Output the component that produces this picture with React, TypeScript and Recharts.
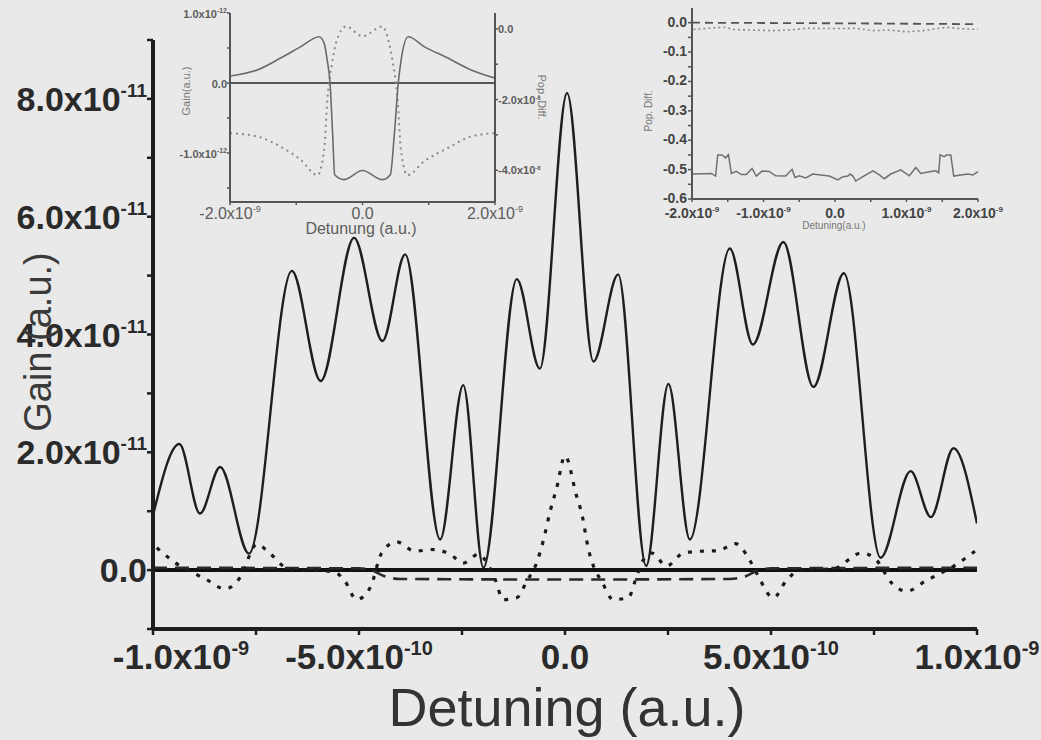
import { LineChart, Line, XAxis, YAxis, ReferenceLine } from 'recharts'

const FONT = '"Liberation Sans", Arial, Helvetica, sans-serif'
const INK = '#1e1e1e'
const GREY = '#5c5c5c'

// main panel: detuning in units of 1e-10, gain in units of 1e-11
const GAIN_X = [-10, -9.36, -8.86, -8.37, -7.67, -6.63, -5.93, -5.12, -4.43, -3.88, -3.03, -2.47, -1.98, -1.17, -0.61, 0.05, 0.69, 1.29, 1.97, 2.51, 3.03, 4.0, 4.56, 5.3, 6.03, 6.77, 7.66, 8.39, 8.88, 9.43, 10]
const GAIN_Y = [0.93, 2.14, 0.96, 1.75, 0.28, 5.08, 3.21, 5.64, 3.89, 5.36, 0.52, 3.14, 0.04, 4.94, 3.42, 8.1, 3.54, 5.02, 0.07, 3.16, 0.52, 5.46, 3.83, 5.57, 3.11, 5.04, 0.21, 1.68, 0.9, 2.07, 0.79]

const DOT_X = [-9.91, -9.51, -8.7, -8.25, -7.89, -7.48, -7.16, -6.7, -6.0, -5.55, -5.34, -5.06, -4.73, -4.45, -4.09, -3.64, -3.24, -2.79, -2.47, -2.1, -1.85, -1.7, -1.5, -1.17, -0.93, -0.69, -0.53, -0.36, -0.2, 0, 0.28, 0.41, 0.57, 0.69, 0.89, 1.17, 1.54, 1.7, 1.86, 2.1, 2.47, 2.87, 3.28, 3.72, 4.13, 4.45, 4.65, 5.06, 5.36, 5.7, 6.5, 7.2, 7.52, 7.93, 8.29, 8.74, 9.55, 9.95]
const DOT_Y = [0.38, 0.15, -0.16, -0.32, -0.13, 0.44, 0.28, 0.02, 0.0, -0.05, -0.19, -0.5, -0.3, 0.29, 0.48, 0.32, 0.35, 0.27, 0.12, 0.27, 0.07, -0.15, -0.5, -0.47, -0.19, 0.12, 0.49, 1.0, 1.4, 1.94, 1.26, 0.95, 0.35, 0.07, -0.19, -0.5, -0.47, -0.19, 0.12, 0.29, 0.07, 0.29, 0.32, 0.33, 0.45, 0.21, -0.05, -0.47, -0.19, 0.0, 0.02, 0.29, 0.2, -0.22, -0.36, -0.19, 0.12, 0.32]

const DASH_X = [-10, -5.0, -4.7, -4.4, -4.0, 0, 4.0, 4.4, 4.7, 5.0, 10]
const DASH_Y = [0.04, 0.03, 0.0, -0.1, -0.15, -0.16, -0.15, -0.1, 0.0, 0.03, 0.04]

const MAIN_X_TICKS = [-10, -7.5, -5, -2.5, 0, 2.5, 5, 7.5, 10]
const MAIN_X_MAJOR = [-10, -5, 0, 5, 10]
const MAIN_X_LABELS: [string, string][] = [['-1.0x10', '-9'], ['-5.0x10', '-10'], ['0.0', ''], ['5.0x10', '-10'], ['1.0x10', '-9']]
const MAIN_Y_TICKS = [-1, 0, 1, 2, 3, 4, 5, 6, 7, 8, 9]
const MAIN_Y_MAJOR = [0, 2, 4, 6, 8]
const MAIN_Y_LABELS: [string, string][] = [['0.0', ''], ['2.0x10', '-11'], ['4.0x10', '-11'], ['6.0x10', '-11'], ['8.0x10', '-11']]

// left inset: detuning in 1e-9, gain in 1e-12, population difference in 1e-8
const IN1_GAIN_X = [-2.0, -1.58, -1.23, -0.93, -0.655, -0.58, -0.53, -0.49, -0.45, -0.42, -0.28, 0, 0.3, 0.42, 0.48, 0.54, 0.58, 0.69, 0.93, 1.28, 1.63, 2.0]
const IN1_GAIN_Y = [0.1, 0.19, 0.36, 0.52, 0.66, 0.57, 0.31, 0.0, -0.74, -1.31, -1.38, -1.25, -1.38, -1.31, -0.74, 0.0, 0.31, 0.66, 0.52, 0.36, 0.19, 0.07]
const IN1_POP_X = [-2.0, -1.58, -1.23, -0.93, -0.68, -0.58, -0.53, -0.45, -0.4, -0.25, 0, 0.3, 0.4, 0.45, 0.53, 0.58, 0.68, 0.93, 1.28, 1.63, 2.0]
const IN1_POP_Y = [-2.95, -3.05, -3.34, -3.71, -4.14, -3.43, -2.0, -0.87, -0.4, 0.07, -0.21, 0.07, -0.4, -0.87, -2.0, -3.43, -4.14, -3.75, -3.38, -3.05, -2.95]

const IN1_X_TICKS = [-2, -1, 0, 1, 2]
const IN1_X_MAJOR = [-2, 0, 2]
const IN1_X_LABELS: [string, string][] = [['-2.0x10', '-9'], ['0.0', ''], ['2.0x10', '-9']]
const IN1_GAIN_TICKS = [-1.5, -1, -0.5, 0, 0.5, 1]
const IN1_GAIN_MAJOR = [-1, 0, 1]
const IN1_GAIN_LABELS: [string, string][] = [['-1.0x10', '-12'], ['0.0', ''], ['1.0x10', '-12']]
const IN1_POP_TICKS = [-4, -3, -2, -1, 0]
const IN1_POP_MAJOR = [-4, -2, 0]
const IN1_POP_LABELS: [string, string][] = [['-4.0x10', '-8'], ['-2.0x10', '-8'], ['0.0', '']]

// right inset: detuning in 1e-9
const IN2_X = [-1.99, -1.85, -1.73, -1.67, -1.64, -1.58, -1.53, -1.49, -1.45, -1.38, -1.31, -1.24, -1.16, -1.1, -1.02, -0.92, -0.83, -0.69, -0.6, -0.56, -0.5, -0.41, -0.31, -0.2, -0.08, 0.04, 0.11, 0.18, 0.21, 0.25, 0.29, 0.39, 0.53, 0.62, 0.69, 0.78, 0.92, 1.04, 1.13, 1.2, 1.32, 1.41, 1.45, 1.47, 1.53, 1.56, 1.62, 1.66, 1.76, 1.86, 1.93, 2.0]
const IN2_SOLID = [-0.515, -0.514, -0.513, -0.522, -0.45, -0.45, -0.46, -0.449, -0.513, -0.506, -0.517, -0.517, -0.496, -0.522, -0.505, -0.506, -0.521, -0.522, -0.499, -0.527, -0.521, -0.528, -0.515, -0.518, -0.522, -0.535, -0.524, -0.522, -0.515, -0.522, -0.539, -0.524, -0.504, -0.518, -0.531, -0.515, -0.501, -0.521, -0.493, -0.513, -0.507, -0.504, -0.511, -0.45, -0.456, -0.45, -0.45, -0.522, -0.518, -0.515, -0.518, -0.507]
const IN2_DOT_X = [-1.98, -1.67, -1.52, -1.44, -1.2, -0.87, -0.64, -0.4, -0.17, 0.06, 0.29, 0.53, 0.76, 1.0, 1.23, 1.46, 1.58, 1.74, 2.0]
const IN2_DOT_Y = [-0.023, -0.017, -0.016, -0.023, -0.025, -0.027, -0.025, -0.019, -0.02, -0.02, -0.019, -0.027, -0.025, -0.031, -0.027, -0.019, -0.016, -0.02, -0.023]
const IN2_DASH_X = [-2.0, 0, 2.0]
const IN2_DASH_Y = [0.0, -0.002, -0.005]

const IN2_X_TICKS = [-2, -1.5, -1, -0.5, 0, 0.5, 1, 1.5, 2]
const IN2_X_MAJOR = [-2, -1, 0, 1, 2]
const IN2_X_LABELS: [string, string][] = [['-2.0x10', '-9'], ['-1.0x10', '-9'], ['0.0', ''], ['1.0x10', '-9'], ['2.0x10', '-9']]
const IN2_Y_TICKS = [-0.6, -0.55, -0.5, -0.45, -0.4, -0.35, -0.3, -0.25, -0.2, -0.15, -0.1, -0.05, 0]
const IN2_Y_MAJOR = [-0.6, -0.5, -0.4, -0.3, -0.2, -0.1, 0]
const IN2_Y_LABELS: [string, string][] = [['-0.6', ''], ['-0.5', ''], ['-0.4', ''], ['-0.3', ''], ['-0.2', ''], ['-0.1', ''], ['0.0', '']]

const rows = (xs: number[], ys: number[]) => xs.map((x, i) => ({ x, y: ys[i] }))

interface TickStyle {
    size: number
    sup: number
    rise: number
    dy: number
    anchor: 'start' | 'middle' | 'end'
    fill: string
    weight: number
    firstDx?: number
}

function sciTick(major: number[], labels: [string, string][], s: TickStyle) {
    return (props: any) => {
        const i = major.indexOf(props.payload.value)
        if (i < 0) return <g />
        const [m, e] = labels[i]
        return (
            <text
                x={props.x + (i === 0 && s.firstDx ? s.firstDx : 0)}
                y={props.y + s.dy}
                textAnchor={s.anchor}
                fontSize={s.size}
                fontWeight={s.weight}
                fill={s.fill}
                fontFamily={FONT}
            >
                {m}
                {e && (
                    <tspan dy={-s.rise} fontSize={s.sup}>
                        {e}
                    </tspan>
                )}
            </text>
        )
    }
}

export default function App() {
    return (
        <div style={{ position: 'absolute', left: 0, top: 0, width: 1041, height: 740, background: '#e9e9e9', overflow: 'hidden' }}>
            {/* main gain spectrum */}
            <div style={{ position: 'absolute', left: 0, top: 0 }}>
                <LineChart width={1041} height={740} margin={{ top: 40, right: 64, bottom: 11, left: 0 }}>
                    <XAxis
                        type="number"
                        dataKey="x"
                        domain={[-10, 10]}
                        ticks={MAIN_X_TICKS}
                        interval={0}
                        height={100}
                        tickSize={6}
                        tickMargin={0}
                        allowDataOverflow
                        axisLine={{ stroke: INK, strokeWidth: 4 }}
                        tickLine={{ stroke: INK, strokeWidth: 2.5 }}
                        tick={sciTick(MAIN_X_MAJOR, MAIN_X_LABELS, { size: 35, sup: 20, rise: 14, dy: 34, anchor: 'middle', fill: '#2a2a2a', weight: 700, firstDx: 28 })}
                    />
                    <YAxis
                        type="number"
                        domain={[-1, 9]}
                        ticks={MAIN_Y_TICKS}
                        interval={0}
                        width={153}
                        tickSize={6}
                        tickMargin={0}
                        allowDataOverflow
                        axisLine={{ stroke: INK, strokeWidth: 4 }}
                        tickLine={{ stroke: INK, strokeWidth: 2.5 }}
                        tick={sciTick(MAIN_Y_MAJOR, MAIN_Y_LABELS, { size: 34, sup: 19, rise: 14, dy: 12, anchor: 'end', fill: '#2a2a2a', weight: 700 })}
                    />
                    <ReferenceLine y={0} stroke="#111" strokeWidth={4} />
                    <Line data={rows(DASH_X, DASH_Y)} dataKey="y" type="monotone" stroke="#2a2a2a" strokeWidth={2.6} strokeDasharray="14 8" dot={false} isAnimationActive={false} />
                    <Line data={rows(DOT_X, DOT_Y)} dataKey="y" type="monotone" stroke="#1a1a1a" strokeWidth={3.2} strokeDasharray="4 8" dot={false} isAnimationActive={false} />
                    <Line data={rows(GAIN_X, GAIN_Y)} dataKey="y" type="monotone" stroke="#1e1e1e" strokeWidth={2.4} dot={false} isAnimationActive={false} />
                </LineChart>
            </div>

            {/* left inset */}
            <div style={{ position: 'absolute', left: 150, top: 0 }}>
                <LineChart width={420} height={240} margin={{ top: 13, right: 0, bottom: 2, left: 0 }}>
                    <XAxis
                        type="number"
                        dataKey="x"
                        domain={[-2, 2]}
                        ticks={IN1_X_TICKS}
                        interval={0}
                        height={36}
                        tickSize={3}
                        tickMargin={0}
                        axisLine={{ stroke: '#555', strokeWidth: 2 }}
                        tickLine={{ stroke: '#555', strokeWidth: 1.5 }}
                        tick={sciTick(IN1_X_MAJOR, IN1_X_LABELS, { size: 16, sup: 9, rise: 7, dy: 14, anchor: 'middle', fill: GREY, weight: 400 })}
                    />
                    <XAxis xAxisId="top" orientation="top" type="number" dataKey="x" domain={[-2, 2]} height={0} tick={false} tickLine={false} axisLine={{ stroke: '#555', strokeWidth: 2 }} />
                    <YAxis
                        yAxisId="gain"
                        type="number"
                        domain={[-1.7, 1.0]}
                        ticks={IN1_GAIN_TICKS}
                        interval={0}
                        width={80}
                        tickSize={3}
                        tickMargin={0}
                        allowDataOverflow
                        axisLine={{ stroke: '#555', strokeWidth: 2 }}
                        tickLine={{ stroke: '#555', strokeWidth: 1.5 }}
                        tick={sciTick(IN1_GAIN_MAJOR, IN1_GAIN_LABELS, { size: 11, sup: 7, rise: 5, dy: 5, anchor: 'end', fill: GREY, weight: 700 })}
                    />
                    <YAxis
                        yAxisId="pop"
                        orientation="right"
                        type="number"
                        domain={[-4.9, 0.45]}
                        ticks={IN1_POP_TICKS}
                        interval={0}
                        width={75}
                        tickSize={3}
                        tickMargin={0}
                        allowDataOverflow
                        axisLine={{ stroke: '#555', strokeWidth: 2 }}
                        tickLine={{ stroke: '#555', strokeWidth: 1.5 }}
                        tick={sciTick(IN1_POP_MAJOR, IN1_POP_LABELS, { size: 11, sup: 6, rise: 4, dy: 4, anchor: 'start', fill: GREY, weight: 700 })}
                    />
                    <ReferenceLine yAxisId="gain" y={0} stroke="#555" strokeWidth={1.8} />
                    <Line yAxisId="pop" data={rows(IN1_POP_X, IN1_POP_Y)} dataKey="y" type="monotone" stroke="#8a8a8a" strokeWidth={2} strokeDasharray="2 4" dot={false} isAnimationActive={false} />
                    <Line yAxisId="gain" data={rows(IN1_GAIN_X, IN1_GAIN_Y)} dataKey="y" type="monotone" stroke="#6a6a6a" strokeWidth={1.6} dot={false} isAnimationActive={false} />
                </LineChart>
            </div>

            {/* right inset */}
            <div style={{ position: 'absolute', left: 600, top: 0 }}>
                <LineChart width={441} height={240} margin={{ top: 8, right: 63, bottom: 3, left: 0 }}>
                    <XAxis
                        type="number"
                        dataKey="x"
                        domain={[-2, 2]}
                        ticks={IN2_X_TICKS}
                        interval={0}
                        height={38}
                        tickSize={3}
                        tickMargin={0}
                        axisLine={{ stroke: '#555', strokeWidth: 2 }}
                        tickLine={{ stroke: '#555', strokeWidth: 1.5 }}
                        tick={sciTick(IN2_X_MAJOR, IN2_X_LABELS, { size: 14, sup: 8, rise: 6, dy: 16, anchor: 'middle', fill: '#444', weight: 700 })}
                    />
                    <YAxis
                        type="number"
                        domain={[-0.6, 0.05]}
                        ticks={IN2_Y_TICKS}
                        interval={0}
                        width={92}
                        tickSize={4}
                        tickMargin={1}
                        allowDataOverflow
                        axisLine={{ stroke: '#555', strokeWidth: 2 }}
                        tickLine={{ stroke: '#555', strokeWidth: 1.5 }}
                        tick={sciTick(IN2_Y_MAJOR, IN2_Y_LABELS, { size: 14, sup: 8, rise: 6, dy: 4, anchor: 'end', fill: '#444', weight: 700 })}
                    />
                    <Line data={rows(IN2_DASH_X, IN2_DASH_Y)} dataKey="y" type="linear" stroke="#555" strokeWidth={1.8} strokeDasharray="8 5" dot={false} isAnimationActive={false} />
                    <Line data={rows(IN2_DOT_X, IN2_DOT_Y)} dataKey="y" type="linear" stroke="#8a8a8a" strokeWidth={1.6} strokeDasharray="2 3" dot={false} isAnimationActive={false} />
                    <Line data={rows(IN2_X, IN2_SOLID)} dataKey="y" type="linear" stroke="#707070" strokeWidth={1.5} dot={false} isAnimationActive={false} />
                </LineChart>
            </div>

            {/* axis titles */}
            <svg width={1041} height={740} style={{ position: 'absolute', left: 0, top: 0, pointerEvents: 'none' }}>
                <text x={567} y={726} textAnchor="middle" fontSize={54} fill="#333" fontFamily={FONT}>
                    Detuning (a.u.)
                </text>
                <text transform="translate(51,342) rotate(-90)" textAnchor="middle" fontSize={38} fill="#3a3a3a" fontFamily={FONT}>
                    Gain (a.u.)
                </text>
                <text x={361} y={234} textAnchor="middle" fontSize={16} fill={GREY} fontFamily={FONT}>
                    Detunung (a.u.)
                </text>
                <text transform="translate(190,91) rotate(-90)" textAnchor="middle" fontSize={11} fill="#777" fontFamily={FONT}>
                    Gain(a.u.)
                </text>
                <text transform="translate(538,97) rotate(90)" textAnchor="middle" fontSize={11} fill="#777" fontFamily={FONT}>
                    Pop. Diff.
                </text>
                <text x={834} y={229} textAnchor="middle" fontSize={10} fill="#777" fontFamily={FONT}>
                    Detuning(a.u.)
                </text>
                <text transform="translate(652,111) rotate(-90)" textAnchor="middle" fontSize={10} fill="#777" fontFamily={FONT}>
                    Pop. Diff.
                </text>
            </svg>
        </div>
    )
}
